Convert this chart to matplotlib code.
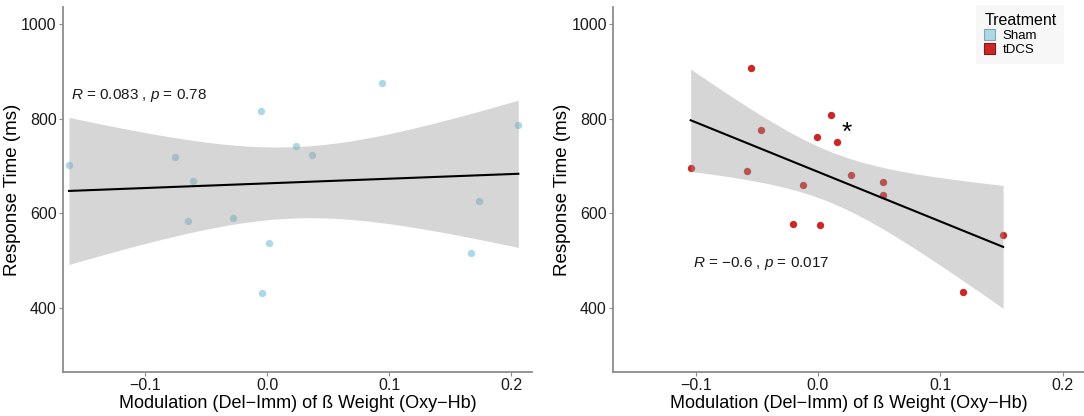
import numpy as np
import matplotlib
matplotlib.use("Agg")
import matplotlib.pyplot as plt
from matplotlib.patches import Patch

plt.rcParams['font.family'] = ['Liberation Sans', 'DejaVu Sans']
plt.rcParams['mathtext.fontset'] = 'custom'
plt.rcParams['mathtext.rm'] = 'Liberation Sans'
plt.rcParams['mathtext.it'] = 'Liberation Sans:italic'

# ---- data ----
sham_x = [-0.1626, -0.0755, -0.0610, -0.0650, -0.0284, -0.0050, -0.0041,
          0.0016, 0.0233, 0.0364, 0.0941, 0.1741, 0.1672, 0.2060]
sham_y = [701, 718, 669, 583, 589, 816, 431, 538, 742, 723, 874, 626, 516, 787]

tdcs_x = [-0.1040, -0.0549, -0.0468, -0.0578, -0.0124, -0.0201, -0.0006,
          0.0014, 0.0109, 0.0158, 0.0273, 0.0534, 0.0534, 0.1187, 0.1514]
tdcs_y = [695, 906, 776, 690, 660, 577, 760, 576, 808, 750, 681, 665, 638, 434, 554]

groups = ["Sham", "tDCS"]
colors = {"Sham": "#ADD8E6", "tDCS": "#CD2626"}
stats_text = {"Sham": r"$\it{R}$ = 0.083 , $\it{p}$ = 0.78",
              "tDCS": r"$\it{R}$ = $-$0.6 , $\it{p}$ = 0.017"}
stats_pos = {"Sham": (-0.161, 849), "tDCS": (-0.1025, 493)}
t_crit = {12: 2.1788, 13: 2.1604}  # 95% two-sided t quantiles

xticks = [-0.1, 0.0, 0.1, 0.2]
yticks = [400, 600, 800, 1000]
xlabel = "Modulation (Del\u2212Imm) of \u00df Weight (Oxy\u2212Hb)"
ylabel = "Response Time (ms)"

fig = plt.figure(figsize=(10.84, 4.16), dpi=100)
ax1 = fig.add_axes([0.0581, 0.1058, 0.433, 0.877])
ax2 = fig.add_axes([0.5655, 0.1058, 0.4345, 0.877])

data = {"Sham": (sham_x, sham_y), "tDCS": (tdcs_x, tdcs_y)}

for ax, g in zip([ax1, ax2], groups):
    x = np.array(data[g][0], float)
    y = np.array(data[g][1], float)
    n = len(x)
    ax.scatter(x, y, s=28, color=colors[g], zorder=2, linewidths=0)
    b, a = np.polyfit(x, y, 1)
    xs = np.linspace(x.min(), x.max(), 100)
    yhat = a + b * xs
    resid = y - (a + b * x)
    s = np.sqrt(np.sum(resid ** 2) / (n - 2))
    se = s * np.sqrt(1.0 / n + (xs - x.mean()) ** 2 / np.sum((x - x.mean()) ** 2))
    tc = t_crit[n - 2]
    ax.fill_between(xs, yhat - tc * se, yhat + tc * se, color="#999999",
                    alpha=0.4, linewidth=0, zorder=3)
    ax.plot(xs, yhat, color="black", lw=1.5, zorder=4)
    ax.text(stats_pos[g][0], stats_pos[g][1], stats_text[g], fontsize=11,
            ha="left", va="center", color="#1a1a1a", zorder=5)

    ax.set_xlim(-0.1675, 0.2175)
    ax.set_ylim(265, 1035)
    ax.set_xticks(xticks)
    ax.set_yticks(yticks)
    ax.set_xticklabels([f"{v:.1f}".replace("-", "\u2212") for v in xticks])
    for sp in ["top", "right"]:
        ax.spines[sp].set_visible(False)
    for sp in ["left", "bottom"]:
        ax.spines[sp].set_color("#8c8c8c")
        ax.spines[sp].set_linewidth(1.3)
    ax.tick_params(axis="both", direction="out", length=3, width=0.8,
                   color="#8c8c8c", labelsize=11.5, labelcolor="#1a1a1a", pad=1.5)
    ax.set_xlabel(xlabel, fontsize=13, labelpad=1)
    ax.set_ylabel(ylabel, fontsize=13.5, labelpad=0)
    ax.set_facecolor("white")

ax2.text(0.0235, 770, "*", fontsize=19, ha="center", va="center",
         color="black", zorder=6)

handles = [Patch(facecolor=colors[g], edgecolor="#7a1a1a" if g == "tDCS" else "#7fa7b0",
                 linewidth=0.8) for g in groups]
leg = fig.legend(handles, groups, loc="upper right", bbox_to_anchor=(0.988, 1.003),
                 title="Treatment", fontsize=9.5, title_fontsize=11.5,
                 frameon=True, facecolor="#f5f5f5", edgecolor="none",
                 handlelength=0.8, handleheight=0.9, handletextpad=0.6,
                 labelspacing=0.05, borderpad=0.6, fancybox=False)
leg._legend_box.align = "left"

fig.savefig("out.png", dpi=100, facecolor="white")
